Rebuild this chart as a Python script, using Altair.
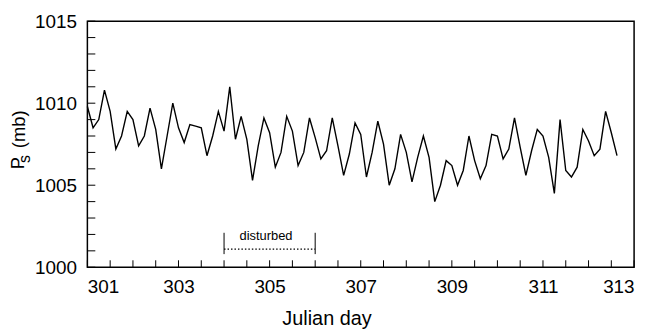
import altair as alt
import pandas as pd

# 3-hourly surface pressure (mb), starting at Julian day 301.0
ps = [1009.8, 1008.5, 1009.0, 1010.8, 1009.5, 1007.2, 1008.0, 1009.5, 1009.0, 1007.4,
      1008.0, 1009.7, 1008.4, 1006.0, 1008.0, 1010.0, 1008.5, 1007.6, 1008.7, 1008.6,
      1008.5, 1006.8, 1008.0, 1009.5, 1008.3, 1011.0, 1007.8, 1009.2, 1007.8, 1005.3,
      1007.4, 1009.1, 1008.2, 1006.1, 1007.0, 1009.2, 1008.3, 1006.2, 1007.0, 1009.1,
      1007.9, 1006.6, 1007.1, 1009.1, 1007.4, 1005.6, 1006.9, 1008.8, 1008.1, 1005.5,
      1007.0, 1008.9, 1007.5, 1005.0, 1006.0, 1008.1, 1007.0, 1005.2, 1006.7, 1008.0,
      1006.7, 1004.0, 1005.0, 1006.5, 1006.2, 1005.0, 1005.9, 1008.0, 1006.5, 1005.4,
      1006.2, 1008.1, 1008.0, 1006.6, 1007.2, 1009.1, 1007.3, 1005.6, 1007.1, 1008.4,
      1008.0, 1006.7, 1004.5, 1009.0, 1005.9, 1005.5, 1006.1, 1008.4, 1007.7, 1006.8,
      1007.2, 1009.5, 1008.2, 1006.8]
start_day = 301.0
step_day = 0.125
days = [start_day + i * step_day for i in range(len(ps))]

x_labels = [301, 303, 305, 307, 309, 311, 313]
x_ticks = [301 + 0.5 * k for k in range(25)]
y_labels = [1000, 1005, 1010, 1015]
y_ticks = list(range(1000, 1016))

dist_start, dist_end = 304.0, 306.0
dist_text = "disturbed"
ytitle_parts = ["P", "s", "(mb)"]

W, H = 551, 248
FONT = "Liberation Sans"

df = pd.DataFrame({"day": days, "ps": ps})
xs = alt.Scale(domain=[301, 313], nice=False, zero=False)
ys = alt.Scale(domain=[1000, 1015], nice=False, zero=False)

line = alt.Chart(df).mark_line(color="black", strokeWidth=1.4).encode(
    x=alt.X("day:Q", scale=xs,
            axis=alt.Axis(values=x_labels, format="d", title="Julian day",
                          labelFont=FONT, labelFontSize=19, labelColor="black",
                          titleFont=FONT, titleFontSize=20, titleFontWeight="normal",
                          titleColor="black", titleX=241, titleY=52,
                          titleAlign="center", titleBaseline="middle",
                          labelPadding=10,
                          domain=False, ticks=False, grid=False)),
    y=alt.Y("ps:Q", scale=ys,
            axis=alt.Axis(values=y_labels, format="d", title=None,
                          labelFont=FONT, labelFontSize=19, labelColor="black",
                          labelPadding=11,
                          domain=False, ticks=False, grid=False)),
)

xt = alt.Chart(pd.DataFrame({"t": x_ticks})).mark_rule(color="black", strokeWidth=1).encode(
    x=alt.X("t:Q", scale=xs), y=alt.value(H), y2=alt.value(H - 7))
yt = alt.Chart(pd.DataFrame({"t": y_ticks})).mark_rule(color="black", strokeWidth=1).encode(
    y=alt.Y("t:Q", scale=ys), x=alt.value(0), x2=alt.value(8))

bracket_v = alt.Chart(pd.DataFrame({"x": [dist_start, dist_end], "y1": [1000.8, 1000.8], "y2": [1002.1, 1002.1]})).mark_rule(
    color="black", strokeWidth=1).encode(
    x=alt.X("x:Q", scale=xs), y=alt.Y("y1:Q", scale=ys), y2="y2:Q")
bracket_h = alt.Chart(pd.DataFrame({"x": [dist_start], "x2": [dist_end], "y": [1001.1]})).mark_rule(
    color="black", strokeWidth=1.2, strokeDash=[1.5, 2]).encode(
    x=alt.X("x:Q", scale=xs), x2="x2:Q", y=alt.Y("y:Q", scale=ys))
label = alt.Chart(pd.DataFrame({"x": [(dist_start + dist_end) / 2 - 0.08], "y": [1001.9], "t": [dist_text]})).mark_text(
    font=FONT, fontSize=13, color="black").encode(
    x=alt.X("x:Q", scale=xs), y=alt.Y("y:Q", scale=ys), text="t:N")

# y-axis title: P with subscript s, then (mb), rotated
t_p = alt.Chart(pd.DataFrame({"t": [ytitle_parts[0]]})).mark_text(
    font=FONT, fontSize=18.5, color="black", angle=270, align="center", baseline="middle").encode(
    text="t:N", x=alt.value(-70), y=alt.value(143))
t_s = alt.Chart(pd.DataFrame({"t": [ytitle_parts[1]]})).mark_text(
    font=FONT, fontSize=16, color="black", angle=270, align="center", baseline="middle").encode(
    text="t:N", x=alt.value(-63), y=alt.value(139))
t_mb = alt.Chart(pd.DataFrame({"t": [ytitle_parts[2]]})).mark_text(
    font=FONT, fontSize=18.5, color="black", angle=270, align="center", baseline="middle").encode(
    text="t:N", x=alt.value(-69), y=alt.value(109))

chart = alt.layer(line, xt, yt, bracket_v, bracket_h, label, t_p, t_s, t_mb).properties(
    width=W, height=H,
    autosize=alt.AutoSizeParams(type="none"),
    padding={"left": 80, "top": 12, "right": 12, "bottom": 65},
).configure_view(stroke="black", strokeWidth=1.5)

chart.save("out.html", embed_options={"renderer": "svg", "actions": False})
